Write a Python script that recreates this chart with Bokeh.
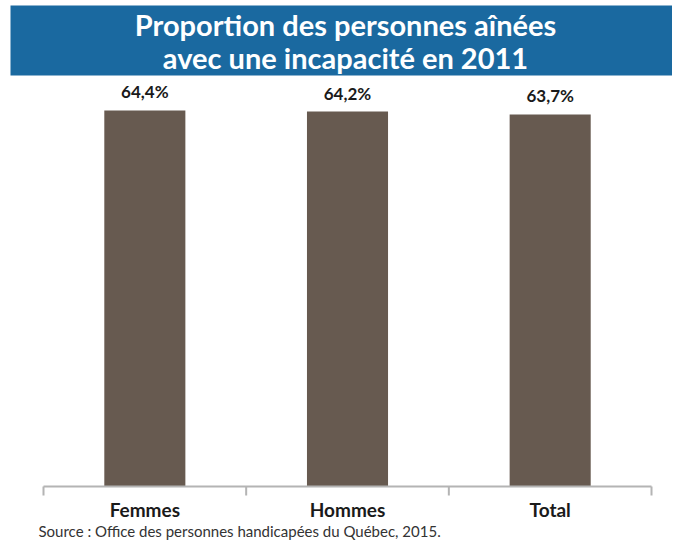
from bokeh.plotting import figure
from bokeh.models import Range1d, ColumnDataSource
from bokeh.embed import file_html
from bokeh.resources import INLINE
from bokeh.core.properties import value

# ---- data ----
categories = ["Femmes", "Hommes", "Total"]
values = [64.4, 64.2, 63.7]
value_labels = ["64,4%", "64,2%", "63,7%"]
title_lines = ["Proportion des personnes aînées", "avec une incapacité en 2011"]
source_note = "Source : Office des personnes handicapées du Québec, 2015."

# ---- style / layout ----
FONT = "Lato"
BAR = "#675a50"
BLUE = "#1a69a0"
GREY = "#b4b4b4"
W, H = 672, 541
OX, OY = 0, 0            # canvas origin in the picture
BAND_PX = 202.67         # pixel width of one category band
UNIT_PX = 5.84           # pixels per percentage point
FRAME_LEFT = 43          # picture x of first category boundary
BASE_Y = 486             # picture y of the baseline

x_start = -(FRAME_LEFT - OX) / BAND_PX
x_end = x_start + W / BAND_PX
y_end = (BASE_Y - OY) / UNIT_PX
y_start = y_end - H / UNIT_PX

def px_x(px):
    return x_start + (px - OX) / BAND_PX

def px_y(py):
    return (BASE_Y - py) / UNIT_PX

p = figure(width=W, height=H, x_range=Range1d(x_start, x_end), y_range=Range1d(y_start, y_end),
           output_backend="svg", toolbar_location=None,
           min_border=0, x_axis_location=None, y_axis_location=None)
p.outline_line_color = None
p.xgrid.visible = False
p.ygrid.visible = False
p.background_fill_color = "white"
p.border_fill_color = "white"

# banner
p.quad(left=[px_x(10)], right=[px_x(680)], top=[px_y(5)], bottom=[px_y(75)],
       color=BLUE, line_color=None)
p.text(x=[px_x(345)] * 2, y=[px_y(24), px_y(57)], text=title_lines,
       text_align="center", text_baseline="middle", text_color="white",
       text_font=value(FONT), text_font_style="bold", text_font_size="29px")

# bars
n = len(categories)
xs = [i + 0.5 for i in range(n)]
src = ColumnDataSource(dict(x=xs, top=values, lab=value_labels, cat=categories))
p.vbar(x="x", top="top", width=0.4, bottom=0, source=src, color=BAR, line_color=None)
p.text(x="x", y="top", text="lab", source=src, text_align="center", text_baseline="bottom",
       y_offset=-8, text_font=value(FONT), text_font_style="bold", text_font_size="17px",
       text_color="#1a1a1a")

# category axis
bounds = list(range(n + 1))
p.segment(x0=[0], x1=[n], y0=[0], y1=[0], line_color=GREY, line_width=2)
p.segment(x0=bounds, x1=bounds, y0=[0] * len(bounds), y1=[-9 / UNIT_PX] * len(bounds),
          line_color=GREY, line_width=2)
p.text(x="x", y=0, text="cat", source=src, y_offset=23, text_align="center",
       text_baseline="middle", text_font=value(FONT), text_font_style="bold",
       text_font_size="19px", text_color="#1a1a1a")

# source note
p.text(x=[px_x(38)], y=[px_y(530)], text=[source_note], text_align="left",
       text_baseline="middle", text_font=value(FONT), text_font_size="15px",
       text_color="#333333")

open("out.html", "w").write(file_html(p, INLINE))
